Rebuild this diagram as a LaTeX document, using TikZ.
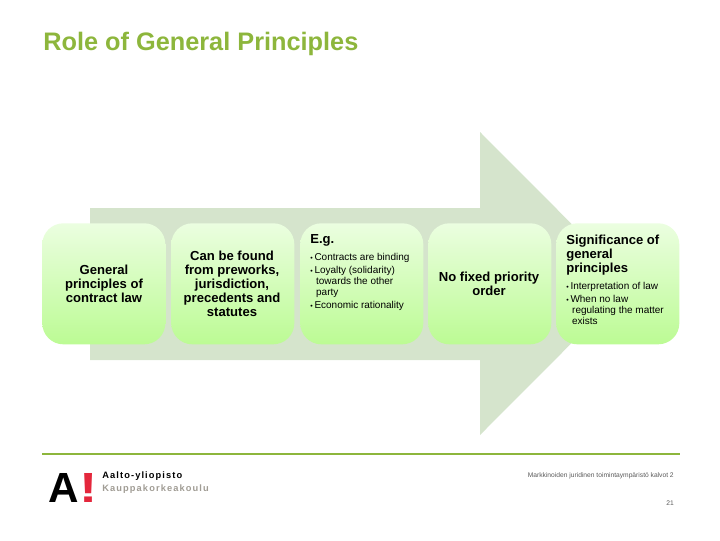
\documentclass[tikz,border=0pt]{standalone}
\usepackage{fontspec}
\usepackage{graphicx}
\setmainfont{Liberation Sans}
\usetikzlibrary{positioning}
\definecolor{aaltogreen}{HTML}{8DB63C}
\definecolor{arrowgreen}{HTML}{D5E4CC}
\definecolor{boxtop}{HTML}{EBFEE0}
\definecolor{boxmiddle}{HTML}{DDFCC8}
\definecolor{boxbottom}{HTML}{BCFB94}
\definecolor{aaltored}{HTML}{E4273C}
\definecolor{aaltogray}{HTML}{A09C94}
\newcommand{\bul}{\makebox[3pt][l]{\scalebox{0.7}{\textbullet}}}
\begin{document}
\begin{tikzpicture}[
  x=0.025cm,y=-0.025cm,
  stagebox/.style={rounded corners=15pt,top color=boxtop,middle color=boxmiddle,bottom color=boxbottom,draw=none,
    minimum width=3.075cm,minimum height=3.025cm,inner sep=0pt,anchor=north west},
  headtext/.style={font=\fontsize{9.3}{10}\selectfont\bfseries,align=center,inner sep=0pt},
  sidehead/.style={headtext,align=left,anchor=north west},
  listtext/.style={font=\fontsize{7.1}{7.8}\selectfont,align=left,inner sep=0pt,anchor=north west},
  foot/.style={font=\fontsize{4.75}{6}\selectfont,text=black!65,inner sep=0pt,anchor=east},
  logotext/.style={font=\fontsize{6.6}{7}\selectfont\bfseries\addfontfeature{LetterSpace=12},inner sep=0pt,anchor=west}
]
\useasboundingbox (0,0) rectangle (720,540);
\node[font=\fontsize{18}{20}\selectfont\bfseries,text=aaltogreen,inner sep=0pt,anchor=west] (title) at (43,44) {Role of General Principles};

% big arrow behind the boxes
\fill[arrowgreen] (90,208) -- (480,208) -- (480,132) -- (631,283.5) -- (480,435) -- (480,360) -- (90,360) -- cycle;

\node[stagebox] (law) at (42,223) {};
\node[stagebox] (found) at (171,223) {};
\node[stagebox] (eg) at (300,223) {};
\node[stagebox] (order) at (428,223) {};
\node[stagebox] (sign) at (556,223) {};

\node[headtext] (lawtext) at (104,284) {General\\principles of\\contract law};
\node[headtext] (foundtext) at (232,284) {Can be found\\from preworks,\\jurisdiction,\\precedents and\\statutes};
\node[sidehead] (eghead) at (310,234.5) {E.g.};
\node[listtext] (eglist) at (310,253) {\bul Contracts are binding\\[1.5pt]\bul Loyalty (solidarity)\\\hspace*{3pt}\,towards the other\\\hspace*{3pt}\,party\\[1.5pt]\bul Economic rationality};
\node[headtext] (ordertext) at (489,284) {No fixed priority\\order};
\node[sidehead] (signhead) at (566,234.5) {Significance of\\general\\principles};
\node[listtext] (signlist) at (566,282) {\bul Interpretation of law\\[1.5pt]\bul When no law\\\hspace*{3pt}\,regulating the matter\\\hspace*{3pt}\,exists};

% footer
\coordinate (ruleleft) at (42,454);
\coordinate (ruleright) at (680,454);
\draw[aaltogreen,line width=1.4pt] (ruleleft) -- (ruleright);
\node[font=\fontsize{30}{30}\selectfont\bfseries,inner sep=0pt] (logoa) at (64,488) {A};
\node[font=\fontsize{30}{30}\selectfont\bfseries,text=aaltored,inner sep=0pt,right=0pt of logoa] (logomark) {\scalebox{1.3}[1]{!}};
\node[logotext] (uni) at (102,476) {Aalto-yliopisto};
\node[logotext,text=aaltogray] (school) at (102,489.5) {Kauppakorkeakoulu};
\node[foot] (course) at (674,476) {Markkinoiden juridinen toimintaympäristö kalvot 2};
\node[foot] (page) at (674,503) {21};
\end{tikzpicture}
\end{document}
